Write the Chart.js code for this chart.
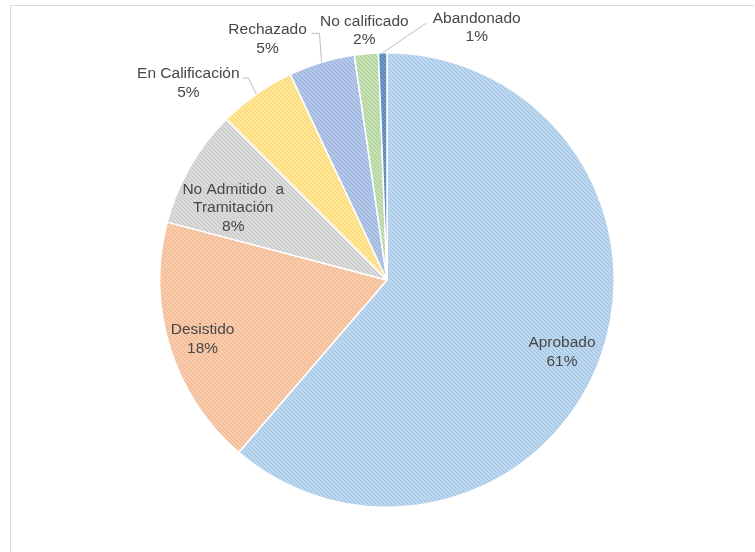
<!DOCTYPE html>
<html>
<head>
<meta charset="utf-8">
<script src="https://cdn.jsdelivr.net/npm/chart.js@4.4.1/dist/chart.umd.min.js"></script>
<style>
  body { margin: 0; background: #fff; }
  #wrap { position: relative; width: 755px; height: 552px; }
  #frame { position: absolute; left: 10px; top: 5px; right: 1px; bottom: -2px;
           border-top: 1px solid #d9d9d9; border-left: 1px solid #d9d9d9; }
</style>
</head>
<body>
<div id="wrap">
  <div id="frame"></div>
  <canvas id="pie"></canvas>
</div>
<script>
// Estados de las solicitudes (porcentajes)
const categories = ['Aprobado', 'Desistido', 'No Admitido  a|Tramitación', 'En Calificación', 'Rechazado', 'No calificado', 'Abandonado'];
const values = [61.3, 17.8, 8.4, 5.5, 4.7, 1.7, 0.6];
const percentLabels = ['61%', '18%', '8%', '5%', '5%', '2%', '1%'];

// fill colours (base + stripe) for the hatched look
const baseColors = ['#bdd7ee', '#f8cbad', '#dbdbdb', '#ffe699', '#b4c7e7', '#c5e0b4', '#6d96c9'];
const stripeColors = ['#9fc3e5', '#f2b48a', '#c4c4c4', '#f7d468', '#93afdf', '#a8cf8f', '#4f7db8'];

// label placement: inside = fraction of radius (+ nudge), outside = offset from arc edge
const labelLayout = [
    { inside: 0.84, dx: -4, dy: 6 },
    { inside: 0.85, dx: 0, dy: 2 },
    { inside: 0.75, dx: -6, dy: 13 },
    { dx: -68, dy: -11, leader: [[-8, -16], [-14, -16]] },
    { dx: -54, dy: -23, leader: [[-2, -29], [-10, -29]] },
    { dx: -2, dy: -23 },
    { dx: 94, dy: -25, leader: [[44, -30]] }
];

function makePattern(base, stripe) {
    const c = document.createElement('canvas');
    c.width = 4; c.height = 4;
    const g = c.getContext('2d');
    g.fillStyle = base;
    g.fillRect(0, 0, 4, 4);
    g.strokeStyle = stripe;
    g.lineWidth = 1;
    g.beginPath();
    g.moveTo(0, 0); g.lineTo(4, 4);
    g.moveTo(-2, 2); g.lineTo(2, 6);
    g.moveTo(2, -2); g.lineTo(6, 2);
    g.stroke();
    return g.createPattern(c, 'repeat');
}

const pieLabels = {
    id: 'pieLabels',
    afterDatasetsDraw(chart) {
        const ctx = chart.ctx;
        const arcs = chart.getDatasetMeta(0).data;
        ctx.save();
        ctx.font = '15.5px "Liberation Sans", Arial, sans-serif';
        ctx.fillStyle = '#474747';
        ctx.textAlign = 'center';
        ctx.textBaseline = 'middle';
        arcs.forEach((arc, i) => {
            const p = arc.getProps(['x', 'y', 'startAngle', 'endAngle', 'outerRadius'], true);
            const mid = (p.startAngle + p.endAngle) / 2;
            const lay = labelLayout[i];
            const lines = categories[i].split('|').concat(percentLabels[i]);
            let cx, cy;
            if (lay.inside !== undefined) {
                cx = p.x + Math.cos(mid) * p.outerRadius * lay.inside + lay.dx;
                cy = p.y + Math.sin(mid) * p.outerRadius * lay.inside + lay.dy;
            } else {
                const ex = p.x + Math.cos(mid) * p.outerRadius;
                const ey = p.y + Math.sin(mid) * p.outerRadius;
                cx = ex + lay.dx;
                cy = ey + lay.dy;
                if (lay.leader) {
                    ctx.strokeStyle = '#bfbfbf';
                    ctx.lineWidth = 1;
                    ctx.beginPath();
                    ctx.moveTo(ex, ey);
                    lay.leader.forEach(pt => ctx.lineTo(ex + pt[0], ey + pt[1]));
                    ctx.stroke();
                }
            }
            const lh = 18.5;
            const top = cy - (lines.length - 1) * lh / 2;
            lines.forEach((t, k) => ctx.fillText(t, cx, top + k * lh));
        });
        ctx.restore();
    }
};

new Chart(document.getElementById('pie'), {
    type: 'pie',
    data: {
        labels: categories.map(c => c.replace('|', ' ')),
        datasets: [{
            data: values,
            backgroundColor: baseColors.map((b, i) => makePattern(b, stripeColors[i])),
            borderColor: '#ffffff',
            borderWidth: 1.5
        }]
    },
    options: {
        responsive: true,
        maintainAspectRatio: false,
        animation: false,
        layout: { padding: { top: 52, bottom: 44, left: 159, right: 140 } },
        plugins: {
            legend: { display: false },
            tooltip: { enabled: false }
        }
    },
    plugins: [pieLabels]
});
</script>
</body>
</html>
